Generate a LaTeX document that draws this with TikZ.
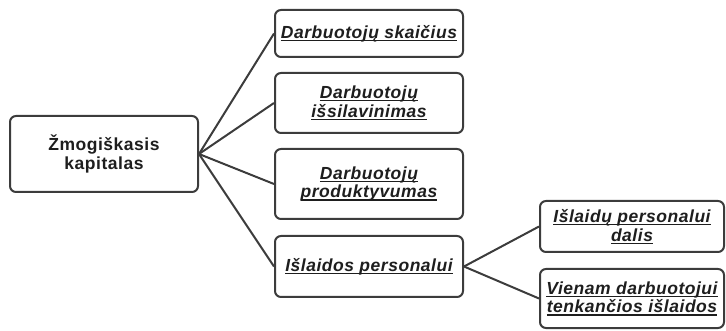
\documentclass[tikz,border=0pt]{standalone}
\usepackage{fontspec}
\setmainfont{Liberation Sans}[LetterSpace=3]
\definecolor{inkgray}{HTML}{1E1E1E}
\definecolor{linegray}{HTML}{3C3C3C}
% underline at a fixed depth, crossing descenders
\newcommand\ulx[1]{\setbox0\hbox{#1}\rlap{\rule[-2.6pt]{\wd0}{1.2pt}}\box0}
\tikzset{
  box/.style={draw=linegray, line width=2pt, rounded corners=6pt, fill=white,
    align=center, text=inkgray, inner sep=2pt,
    font=\bfseries\fontsize{17.5}{18.8}\selectfont},
  leaf/.style={box, font=\bfseries\itshape\fontsize{17.5}{18.8}\selectfont},
  link/.style={draw=linegray, line width=2pt}
}
\begin{document}
\begin{tikzpicture}[x=1pt,y=1pt]
\useasboundingbox (0,0) rectangle (726,-331);
\node[box, minimum width=188pt, minimum height=76pt] (root) at (104,-154)
  {Žmogiškasis\\kapitalas};
\node[leaf, minimum width=188pt, minimum height=47pt] (b1) at (369,-33.5)
  {\ulx{Darbuotojų skaičius}};
\node[leaf, minimum width=188pt, minimum height=60pt] (b2) at (369,-103)
  {\ulx{Darbuotojų}\\\ulx{išsilavinimas}};
\node[leaf, minimum width=188pt, minimum height=70pt] (b3) at (369,-184)
  {\ulx{Darbuotojų}\\\ulx{produktyvumas}};
\node[leaf, minimum width=188pt, minimum height=61pt] (b4) at (369,-266.5)
  {\ulx{Išlaidos personalui}};
\node[leaf, minimum width=184pt, minimum height=51pt] (b5) at (632,-226.5)
  {\ulx{Išlaidų personalui}\\\ulx{dalis}};
\node[leaf, minimum width=184pt, minimum height=59pt] (b6) at (632,-298.5)
  {\ulx{Vienam darbuotojui}\\\ulx{tenkančios išlaidos}};
\foreach \t in {b1,b2,b3,b4}
  \draw[link] (root.east) -- (\t.west);
\draw[link] (b4.east) -- (b5.west);
\draw[link] (b4.east) -- (b6.west);
\end{tikzpicture}
\end{document}
